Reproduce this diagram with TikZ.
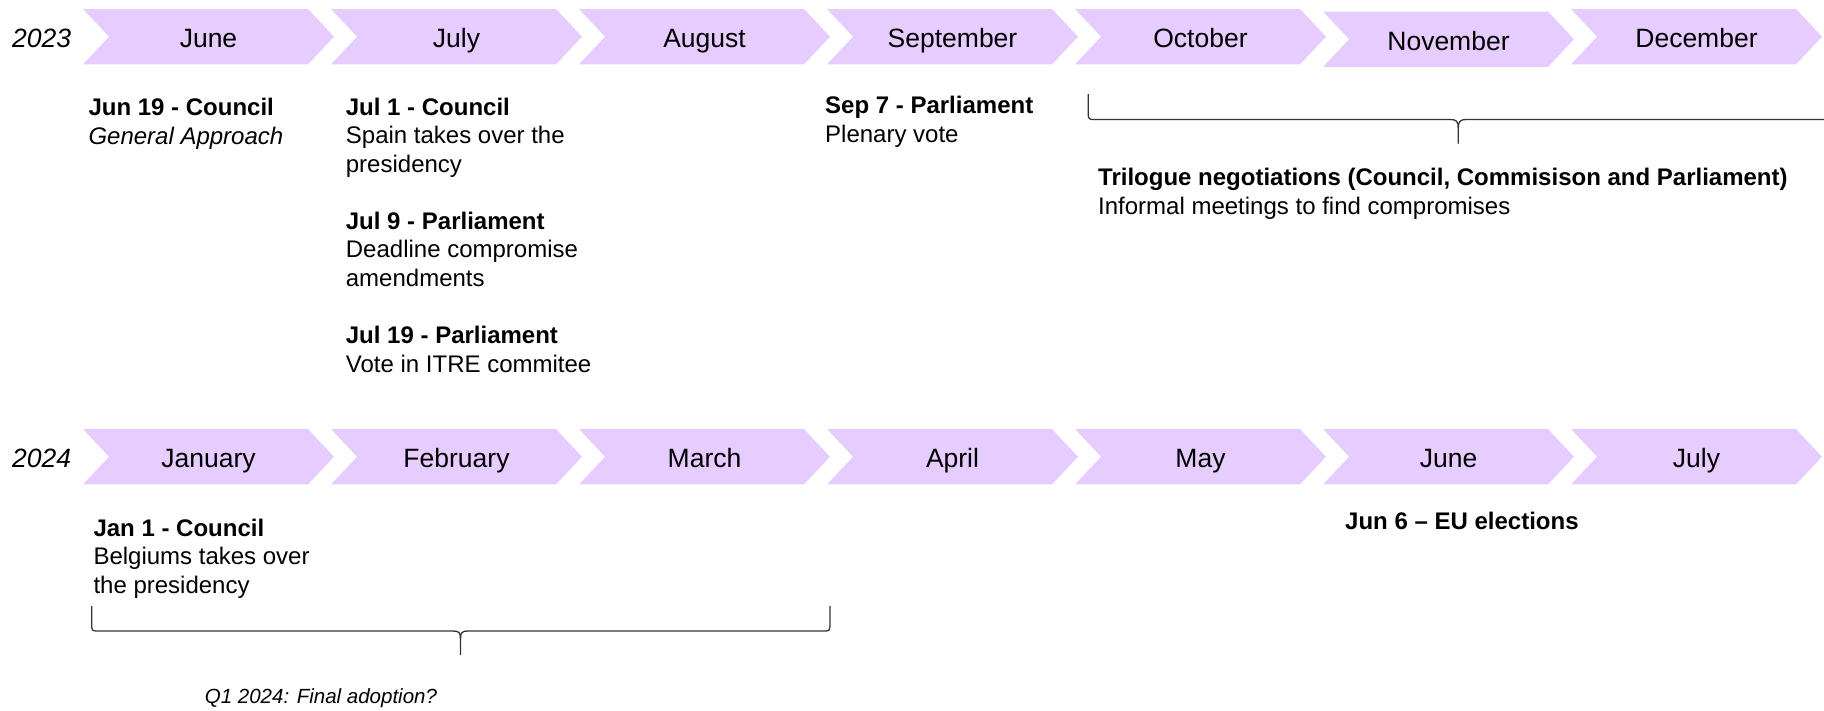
\documentclass[tikz,border=0pt]{standalone}
\usepackage{fontspec}
\setmainfont{Liberation Sans}
\definecolor{chev}{HTML}{E6CCFF}
\tikzset{
  month/.style={anchor=base, inner sep=0pt, font=\fontsize{26.5}{31}\selectfont},
  yearlabel/.style={anchor=base west, inner sep=0pt, font=\fontsize{26.5}{31}\selectfont\itshape},
  event/.style={anchor=base west, inner sep=0pt, align=left, font=\fontsize{24}{28.5}\selectfont},
  note/.style={anchor=base west, inner sep=0pt, font=\fontsize{20.5}{25}\selectfont\itshape},
  bracel/.style={draw=black!80, line width=1.3pt},
}
\newcommand\chev[4]{%
  \fill[chev] (#1,#2-27.7) -- ++(225,0) -- ++(26,27.7) -- ++(-26,27.7) -- ++(-225,0) -- ++(26,-27.7) -- cycle;
  \node[month] (#4) at (#1+125.5,#2+11) {#3};
}
\begin{document}
\begin{tikzpicture}[x=1pt,y=-1pt]
\useasboundingbox (0,0) rectangle (1824,710);
% 2023 row
\node[yearlabel] (y23) at (12,47) {2023};
\chev{83}{36.7}{June}{jun23}
\chev{331}{36.7}{July}{jul23}
\chev{579}{36.7}{August}{aug23}
\chev{827}{36.7}{September}{sep23}
\chev{1075}{36.7}{October}{oct23}
\chev{1323}{39.2}{November}{nov23}
\chev{1571}{36.7}{December}{dec23}
% 2024 row
\node[yearlabel] (y24) at (12,467) {2024};
\chev{83}{456.7}{January}{jan24}
\chev{331}{456.7}{February}{feb24}
\chev{579}{456.7}{March}{mar24}
\chev{827}{456.7}{April}{apr24}
\chev{1075}{456.7}{May}{may24}
\chev{1323}{456.7}{June}{jun24}
\chev{1571}{456.7}{July}{jul24}
% events 2023 (anchor = baseline of last line)
\node[event] (ev-jun19) at (88.3,144.1) {\textbf{Jun 19 - Council}\\\textit{General Approach}};
\node[event] (ev-jul1) at (345.7,172.1) {\textbf{Jul 1 - Council}\\Spain takes over the\\presidency};
\node[event] (ev-jul9) at (345.7,286.1) {\textbf{Jul 9 - Parliament}\\Deadline compromise\\amendments};
\node[event] (ev-jul19) at (345.7,372) {\textbf{Jul 19 - Parliament}\\Vote in ITRE commitee};
\node[event] (ev-sep7) at (825,142) {\textbf{Sep 7 - Parliament}\\Plenary vote};
\node[event] (ev-tri) at (1098,214) {\textbf{Trilogue negotiations (Council, Commisison and Parliament)}\\Informal meetings to find compromises};
% events 2024
\node[event] (ev-jan1) at (93.3,593.2) {\textbf{Jan 1 - Council}\\Belgiums takes over\\the presidency};
\node[event] (ev-jun6) at (1345,529.2) {\textbf{Jun 6 – EU elections}};
\node[note] (ev-q1) at (204.7,703.5) {Q1 2024: Final adoption?};
% braces
\draw[bracel] (1088.3,94) -- (1088.3,115) .. controls (1088.3,118.5) and (1089.5,119.5) .. (1093,119.5) -- (1450,119.5) .. controls (1456,119.5) and (1458.3,121) .. (1458.3,128) -- (1458.3,143.5);
\draw[bracel] (1458.3,128) .. controls (1458.3,121) and (1460.6,119.5) .. (1466.6,119.5) -- (1830,119.5);
\draw[bracel] (91.7,606) -- (91.7,627) .. controls (91.7,630) and (92.5,631) .. (95.5,631) -- (453,631) .. controls (459,631) and (460.5,632.5) .. (460.5,639) -- (460.5,655);
\draw[bracel] (460.5,639) .. controls (460.5,632.5) and (462,631) .. (468,631) -- (826,631) .. controls (829.5,631) and (830,629) .. (830,626) -- (830,606);
\end{tikzpicture}
\end{document}
